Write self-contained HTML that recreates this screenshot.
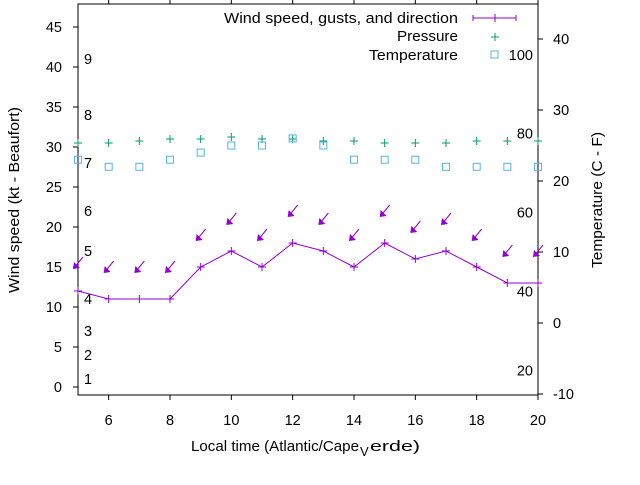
<!DOCTYPE html>
<html><head><meta charset="utf-8"><style>
body{margin:0;background:#fff}
svg{font-family:"Liberation Sans",sans-serif;font-size:14.5px}
</style></head><body>
<svg id="c" width="640" height="480" xmlns="http://www.w3.org/2000/svg">
<rect x="0" y="0" width="640" height="480" fill="#fff"/>
<g id="grid"></g>
<rect x="78" y="4" width="460" height="391" fill="none" stroke="#000" stroke-width="1"/>
<g id="marks"></g>
<text x="191" y="451" textLength="168" lengthAdjust="spacingAndGlyphs">Local time (Atlantic/Cape</text>
<text x="360" y="456" font-size="13">V</text>
<text x="370" y="451" textLength="50" lengthAdjust="spacingAndGlyphs">erde)</text>
<text transform="translate(19,200) rotate(-90)" text-anchor="middle" textLength="186" lengthAdjust="spacingAndGlyphs">Wind speed (kt - Beaufort)</text>
<text transform="translate(602,200) rotate(-90)" text-anchor="middle" textLength="136" lengthAdjust="spacingAndGlyphs">Temperature (C - F)</text>
<g>
<text x="224" y="23" textLength="234" lengthAdjust="spacingAndGlyphs">Wind speed, gusts, and direction</text>
<line x1="473" y1="18" x2="516" y2="18" stroke="#9400d3"/>
<path d="M473 15v6M516 15v6M491 18h8M495 14v8" stroke="#9400d3"/>
<text x="397" y="41" textLength="61" lengthAdjust="spacingAndGlyphs">Pressure</text>
<path d="M491 37h8M495 33v8" stroke="#009e73"/>
<text x="369" y="60" textLength="89" lengthAdjust="spacingAndGlyphs">Temperature</text>
<rect x="491" y="51" width="7" height="7" fill="none" stroke="#56b4e9"/>
</g>
</svg>
<script>
const hours=[5,6,7,8,9,10,11,12,13,14,15,16,17,18,19,20];
const windSpeed=[12,11,11,11,15,17,15,18,17,15,18,16,17,15,13,13];
const gusts=[15.5,15,15,15,19,21,19,22,21,19,22,20,21,19,17,17];
const pressure=[30.5,30.5,30.75,31,31,31.25,31,31,30.75,30.75,30.5,30.5,30.5,30.75,30.75,30.75];
const tempC=[23,22,22,23,24,25,25,26,25,23,23,23,22,22,22,22];
const xTicks=[6,8,10,12,14,16,18,20];
const yTicks=[0,5,10,15,20,25,30,35,40,45];
const y2Ticks=[-10,0,10,20,30,40];
const beaufort=[["1",1],["2",4],["3",7],["4",11],["5",17],["6",22],["7",28],["8",34],["9",41]];
const fahr=[20,40,60,80,100];
const X=h=>78+(h-5)*460/15;
const Y=v=>387-8*v;
const Y2=t=>323-7.1*t;
const NS="http://www.w3.org/2000/svg";
const g=document.getElementById('grid'),m=document.getElementById('marks');
function mk(p,tag,a){const e=document.createElementNS(NS,tag);for(const k in a)e.setAttribute(k,a[k]);p.appendChild(e);return e;}
xTicks.forEach(t=>{
 const e=mk(g,'path',{d:`M${X(t)} 395v5M${X(t)} 4v-5`,stroke:'#000'});
 
 
 const l=mk(g,'text',{x:X(t),y:425,'text-anchor':'middle'});l.textContent=t;
 
 
});
yTicks.forEach(t=>{
 const e=mk(g,'path',{d:`M78 ${Y(t)}h-5`,stroke:'#000'});
 
 
 const l=mk(g,'text',{x:62,y:Y(t)+5,'text-anchor':'end'});l.textContent=t;
 
 
});
y2Ticks.forEach(t=>{
 const e=mk(g,'path',{d:`M538 ${Y2(t)}h5`,stroke:'#000'});
 
 
 const l=mk(g,'text',{x:553,y:Y2(t)+5});l.textContent=t;
 
 
});
beaufort.forEach(b=>{
 const l=mk(g,'text',{x:84,y:Y(b[1])+5});l.textContent=b[0];
 
 
});
fahr.forEach(f=>{
 const l=mk(g,'text',{x:533,y:Y2((f-32)*5/9)+5,'text-anchor':'end'});l.textContent=f;
 
 
});
hours.forEach((h,i)=>{
 const x=X(h),y=Y(pressure[i]);
 const e=mk(m,'path',{d:`M${x-4} ${y}h8M${x} ${y-4}v8`,stroke:'#009e73'});
 
 
});
hours.forEach((h,i)=>{
 const x=X(h),y=Y2(tempC[i]);
 const e=mk(m,'rect',{x:x-3.5,y:y-3.5,width:7,height:7,fill:'none',stroke:'#56b4e9'});
 
 
});
const line=mk(m,'polyline',{points:hours.map((h,i)=>X(h)+','+Y(windSpeed[i])).join(' '),fill:'none',stroke:'#9400d3'});


hours.forEach((h,i)=>{
 const x=X(h),y=Y(windSpeed[i]);
 const e=mk(m,'path',{d:`M${x-4} ${y}h8M${x} ${y-4}v8`,stroke:'#9400d3'});
 
 
});
hours.forEach((h,i)=>{
 const x=X(h),y=Y(gusts[i]);
 const e=mk(m,'g',{});
 
 
 mk(e,'line',{x1:x+5,y1:y-6,x2:x-4,y2:y+5,stroke:'#9400d3'});
 mk(e,'path',{d:`M${x-5} ${y+6}l1 -7l6 6z`,fill:'#9400d3'});
});
</script>
</body></html>
